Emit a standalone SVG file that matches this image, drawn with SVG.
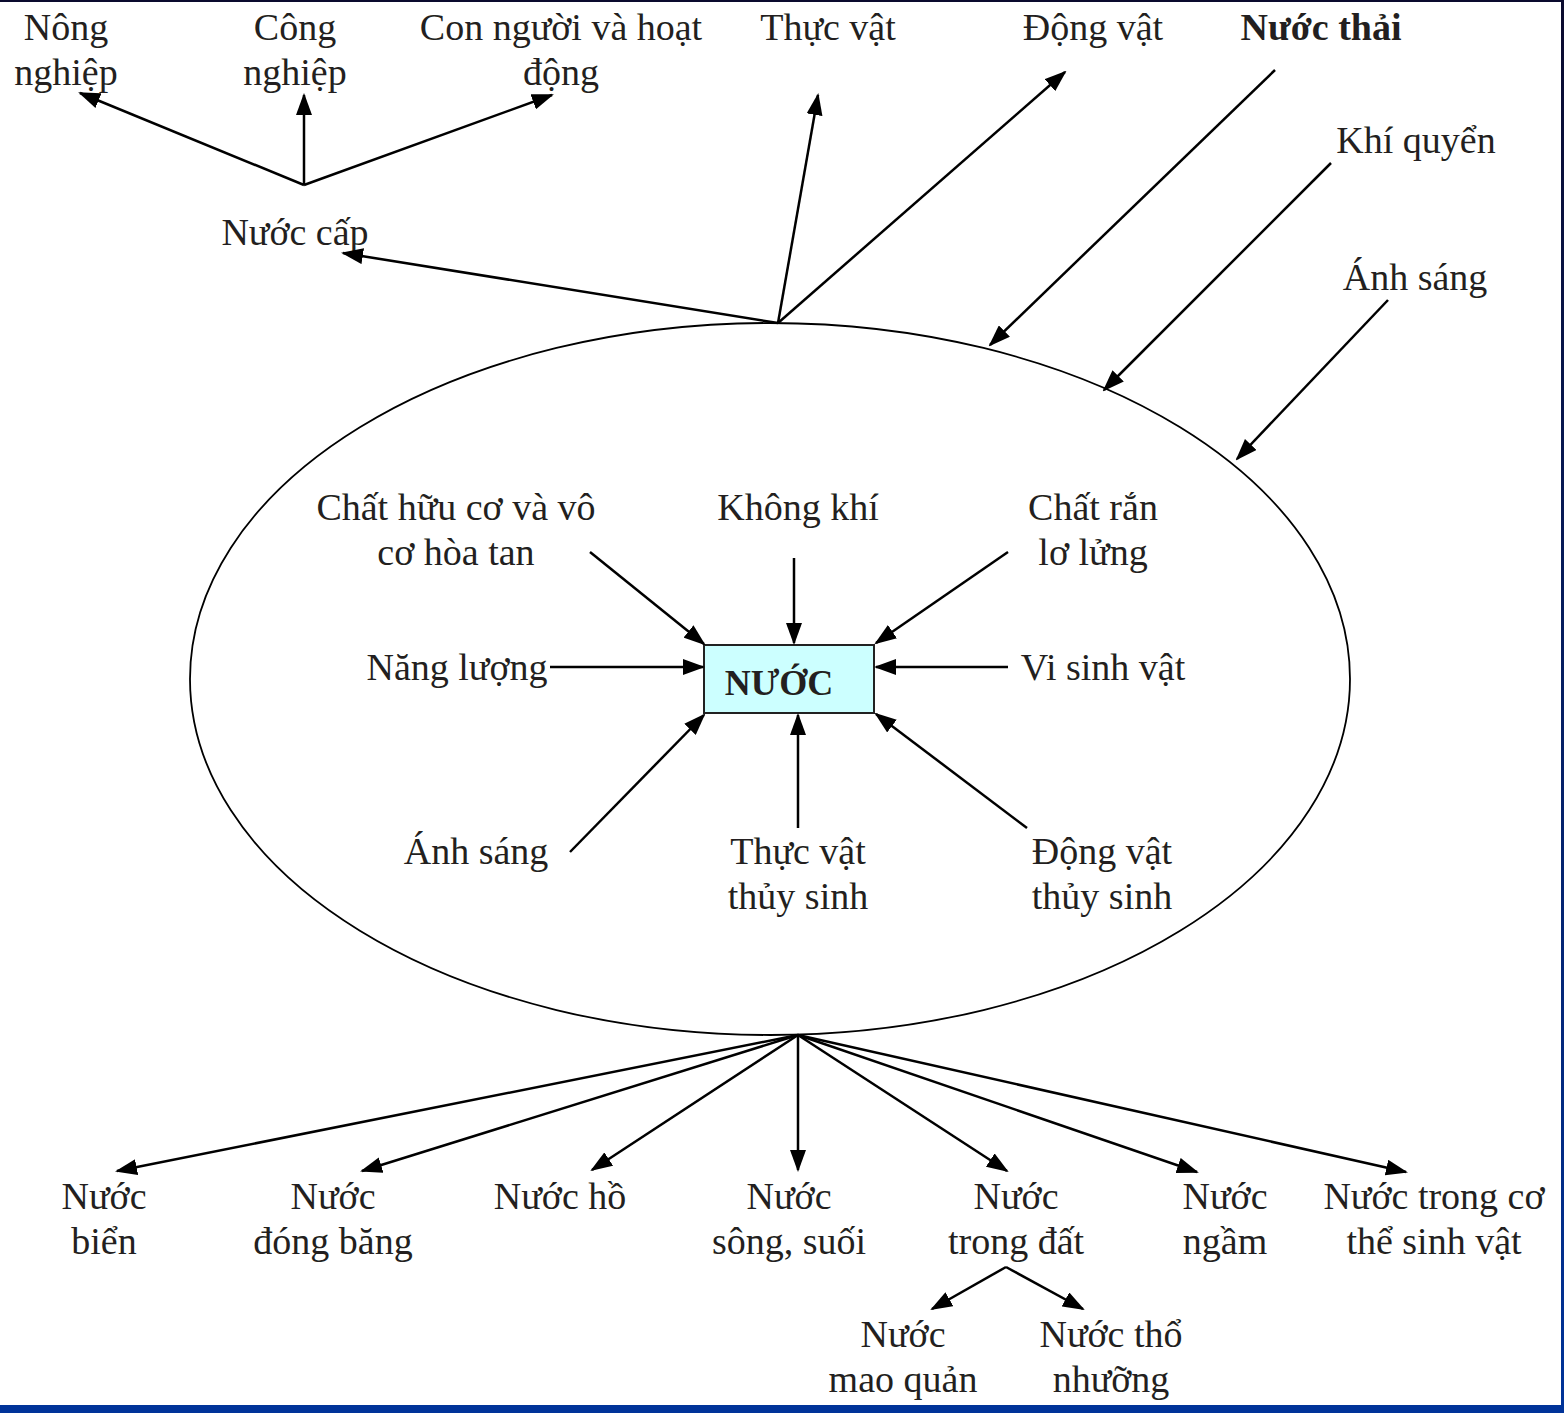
<svg xmlns="http://www.w3.org/2000/svg" width="1564" height="1413" viewBox="0 0 1564 1413">
<defs>
<marker id="ah" markerUnits="userSpaceOnUse" markerWidth="22" markerHeight="16" refX="20" refY="8" orient="auto">
<path d="M0,0 L22,8 L0,16 z" fill="#000"/>
</marker>
<linearGradient id="rb" x1="0" y1="0" x2="0" y2="1">
<stop offset="0" stop-color="#0a0a2e"/>
<stop offset="1" stop-color="#003399"/>
</linearGradient>
</defs>
<style>
text{font-family:"Liberation Serif","Times New Roman",serif;font-size:38px;fill:#231f20;text-anchor:middle}
.b{font-weight:bold}
.c line{stroke:#000;stroke-width:2.5;marker-end:url(#ah)}
</style>
<rect x="0" y="0" width="1564" height="1413" fill="#fff"/>
<rect x="0" y="0" width="1564" height="2" fill="#0a0a2e"/>
<rect x="1561" y="0" width="3" height="1413" fill="url(#rb)"/>
<rect x="0" y="1405" width="1564" height="8" fill="#003399"/>

<g id="ellipse"><ellipse cx="770" cy="679" rx="580" ry="356" fill="none" stroke="#000" stroke-width="1.8"/></g>

<g id="nuoc"><rect x="704" y="645" width="170" height="68" fill="#ccffff" stroke="#222" stroke-width="2"/><text class="b" x="779" y="695" style="font-size:36px">NƯỚC</text></g>

<g id="nong-nghiep"><text x="66" y="40">Nông</text><text x="66" y="85">nghiệp</text></g>
<g id="cong-nghiep"><text x="295" y="40">Công</text><text x="295" y="85">nghiệp</text></g>
<g id="con-nguoi"><text x="561" y="40">Con người và hoạt</text><text x="561" y="85">động</text></g>
<g id="thuc-vat-top"><text x="828" y="40">Thực vật</text></g>
<g id="dong-vat-top"><text x="1093" y="40">Động vật</text></g>
<g id="nuoc-thai"><text class="b" x="1321" y="40">Nước thải</text></g>
<g id="khi-quyen"><text x="1416" y="153">Khí quyển</text></g>
<g id="anh-sang-top"><text x="1415" y="290">Ánh sáng</text></g>
<g id="nuoc-cap"><text x="295" y="245">Nước cấp</text></g>

<g id="chat-huu-co"><text x="456" y="520">Chất hữu cơ và vô</text><text x="456" y="565">cơ hòa tan</text></g>
<g id="khong-khi"><text x="798" y="520">Không khí</text></g>
<g id="chat-ran"><text x="1093" y="520">Chất rắn</text><text x="1093" y="565">lơ lửng</text></g>
<g id="nang-luong"><text x="457" y="680">Năng lượng</text></g>
<g id="vi-sinh-vat"><text x="1103" y="680">Vi sinh vật</text></g>
<g id="anh-sang-in"><text x="476" y="864">Ánh sáng</text></g>
<g id="thuc-vat-ts"><text x="798" y="864">Thực vật</text><text x="798" y="909">thủy sinh</text></g>
<g id="dong-vat-ts"><text x="1102" y="864">Động vật</text><text x="1102" y="909">thủy sinh</text></g>

<g id="nuoc-bien"><text x="104" y="1209">Nước</text><text x="104" y="1254">biển</text></g>
<g id="nuoc-dong-bang"><text x="333" y="1209">Nước</text><text x="333" y="1254">đóng băng</text></g>
<g id="nuoc-ho"><text x="560" y="1209">Nước hồ</text></g>
<g id="nuoc-song"><text x="789" y="1209">Nước</text><text x="789" y="1254">sông, suối</text></g>
<g id="nuoc-trong-dat"><text x="1016" y="1209">Nước</text><text x="1016" y="1254">trong đất</text></g>
<g id="nuoc-ngam"><text x="1225" y="1209">Nước</text><text x="1225" y="1254">ngầm</text></g>
<g id="nuoc-sinh-vat"><text x="1434" y="1209">Nước trong cơ</text><text x="1434" y="1254">thể sinh vật</text></g>
<g id="nuoc-mao-quan"><text x="903" y="1347">Nước</text><text x="903" y="1392">mao quản</text></g>
<g id="nuoc-tho-nhuong"><text x="1111" y="1347">Nước thổ</text><text x="1111" y="1392">nhưỡng</text></g>

<g class="c" id="connectors">
<line x1="304" y1="185" x2="80" y2="93"/>
<line x1="304" y1="185" x2="304" y2="95"/>
<line x1="304" y1="185" x2="552" y2="95"/>
<line x1="778" y1="323" x2="343" y2="253"/>
<line x1="778" y1="323" x2="818" y2="95"/>
<line x1="778" y1="323" x2="1065" y2="72"/>
<line x1="1275" y1="70" x2="990" y2="345"/>
<line x1="1331" y1="163" x2="1104" y2="390"/>
<line x1="1388" y1="300" x2="1237" y2="459"/>
<line x1="590" y1="552" x2="704" y2="644"/>
<line x1="794" y1="558" x2="794" y2="643"/>
<line x1="1008" y1="552" x2="876" y2="643"/>
<line x1="550" y1="667" x2="703" y2="667"/>
<line x1="1008" y1="667" x2="876" y2="667"/>
<line x1="570" y1="852" x2="704" y2="715"/>
<line x1="798" y1="828" x2="798" y2="715"/>
<line x1="1027" y1="828" x2="876" y2="714"/>
<line x1="798" y1="1035" x2="117" y2="1171"/>
<line x1="798" y1="1035" x2="362" y2="1171"/>
<line x1="798" y1="1035" x2="592" y2="1170"/>
<line x1="798" y1="1035" x2="798" y2="1170"/>
<line x1="798" y1="1035" x2="1007" y2="1171"/>
<line x1="798" y1="1035" x2="1197" y2="1172"/>
<line x1="798" y1="1035" x2="1406" y2="1172"/>
<line x1="1006" y1="1267" x2="932" y2="1309"/>
<line x1="1006" y1="1267" x2="1083" y2="1309"/>
</g>
</svg>
